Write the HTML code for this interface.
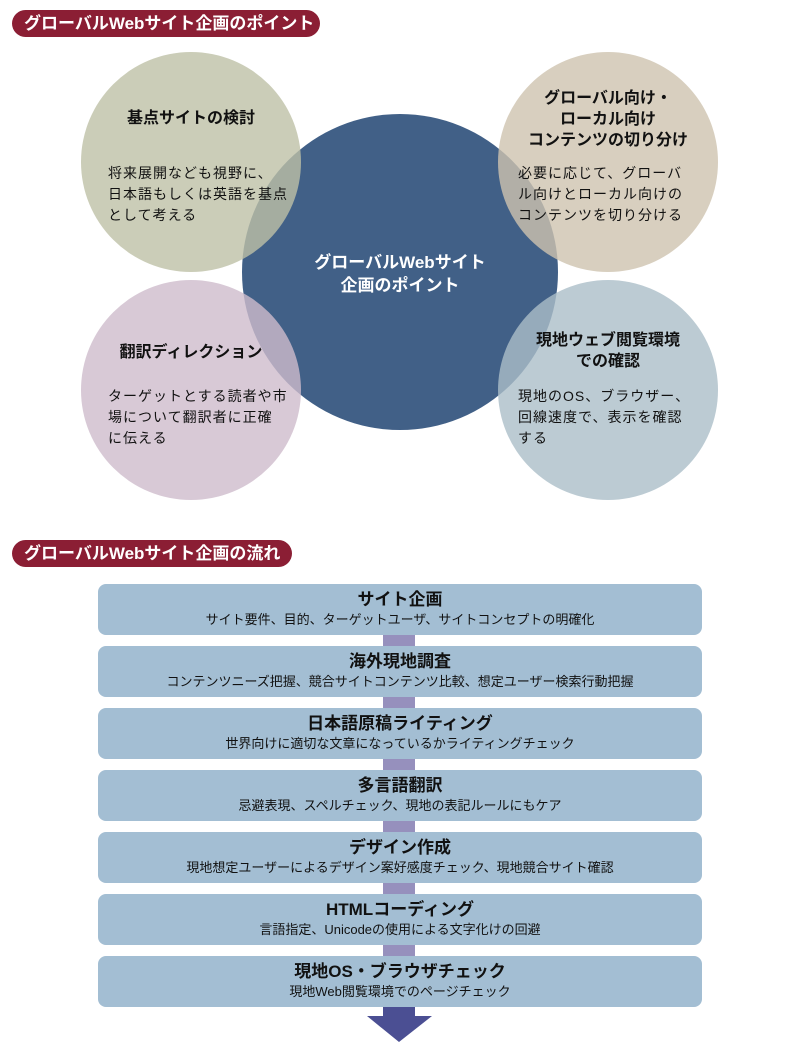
<!DOCTYPE html>
<html><head><meta charset="utf-8"><style>
body{margin:0;width:800px;height:1054px;background:#fff;position:relative;font-family:"Liberation Sans","Noto Sans CJK JP",sans-serif;overflow:hidden}
.pill{position:absolute;left:12px;height:27px;background:#8b1e34;color:#fff;border-radius:14px;font-weight:bold;font-size:17px;line-height:27px;padding-left:12px;box-sizing:border-box}
.c{position:absolute;border-radius:50%}
.t{position:absolute;text-align:center;color:#111}
.h{font-weight:bold;font-size:16px;line-height:21px}
.b{font-size:14px;line-height:21px;text-align:left;letter-spacing:1px}
.box{position:absolute;left:98px;width:604px;height:51px;background:#a3bed3;border-radius:8px;text-align:center;color:#111}
.box b{display:block;font-size:17px;margin-top:5px;line-height:21px}
.box span{display:block;font-size:13px;line-height:19px}
.con{position:absolute;left:383px;width:32px;height:12px;background:#9690bd}
</style></head><body>
<div class="pill" style="top:10px;width:308px">グローバルWebサイト企画のポイント</div>
<div class="c" style="left:242px;top:114px;width:316px;height:316px;background:#416087"></div>
<div class="c" style="left:81px;top:52px;width:220px;height:220px;background:rgb(190,193,166);opacity:.8"></div>
<div class="c" style="left:498px;top:52px;width:220px;height:220px;background:rgb(206,195,175);opacity:.8"></div>
<div class="c" style="left:81px;top:280px;width:220px;height:220px;background:rgb(206,188,204);opacity:.8"></div>
<div class="c" style="left:498px;top:280px;width:220px;height:220px;background:rgb(171,190,200);opacity:.8"></div>
<div class="t h" style="left:242px;top:251px;width:316px;color:#fff;font-size:17px;line-height:23px">グローバルWebサイト<br>企画のポイント</div>
<div class="t h" style="left:91px;top:108px;width:200px">基点サイトの検討</div>
<div class="t b" style="left:108px;top:163px;width:190px">将来展開なども視野に、<br>日本語もしくは英語を基点<br>として考える</div>
<div class="t h" style="left:508px;top:88px;width:200px">グローバル向け・<br>ローカル向け<br>コンテンツの切り分け</div>
<div class="t b" style="left:518px;top:163px;width:195px">必要に応じて、グローバ<br>ル向けとローカル向けの<br>コンテンツを切り分ける</div>
<div class="t h" style="left:91px;top:342px;width:200px">翻訳ディレクション</div>
<div class="t b" style="left:108px;top:386px;width:190px">ターゲットとする読者や市<br>場について翻訳者に正確<br>に伝える</div>
<div class="t h" style="left:508px;top:330px;width:200px">現地ウェブ閲覧環境<br>での確認</div>
<div class="t b" style="left:518px;top:386px;width:195px">現地のOS、ブラウザー、<br>回線速度で、表示を確認<br>する</div>

<div class="pill" style="top:540px;width:280px">グローバルWebサイト企画の流れ</div>
<div class="con" style="top:635px"></div><div class="con" style="top:697px"></div><div class="con" style="top:759px"></div><div class="con" style="top:821px"></div><div class="con" style="top:883px"></div><div class="con" style="top:945px"></div>
<div class="box" style="top:584px"><b>サイト企画</b><span>サイト要件、目的、ターゲットユーザ、サイトコンセプトの明確化</span></div>
<div class="box" style="top:646px"><b>海外現地調査</b><span>コンテンツニーズ把握、競合サイトコンテンツ比較、想定ユーザー検索行動把握</span></div>
<div class="box" style="top:708px"><b>日本語原稿ライティング</b><span>世界向けに適切な文章になっているかライティングチェック</span></div>
<div class="box" style="top:770px"><b>多言語翻訳</b><span>忌避表現、スペルチェック、現地の表記ルールにもケア</span></div>
<div class="box" style="top:832px"><b>デザイン作成</b><span>現地想定ユーザーによるデザイン案好感度チェック、現地競合サイト確認</span></div>
<div class="box" style="top:894px"><b>HTMLコーディング</b><span>言語指定、Unicodeの使用による文字化けの回避</span></div>
<div class="box" style="top:956px"><b>現地OS・ブラウザチェック</b><span>現地Web閲覧環境でのページチェック</span></div>
<svg style="position:absolute;left:0;top:0" width="800" height="1054"><polygon points="383,1007 415,1007 415,1016 432,1016 399,1042 367,1016 383,1016" fill="#4b4f93"/></svg>
</body></html>
